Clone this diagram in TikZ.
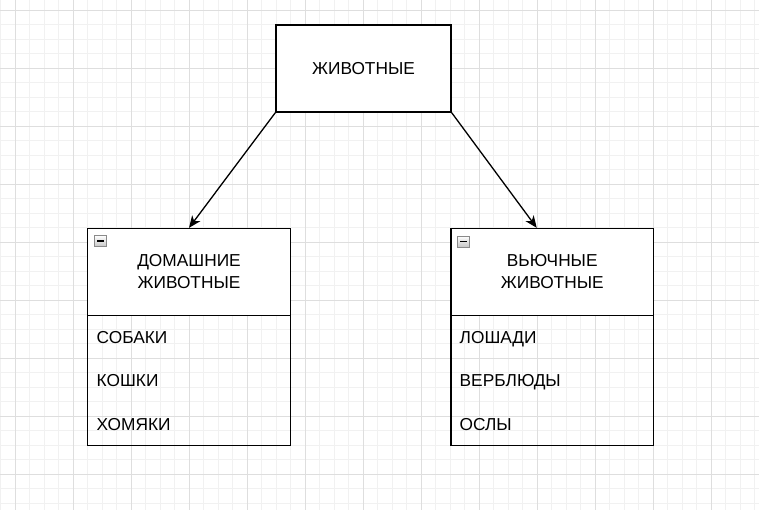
\documentclass[tikz,border=0pt]{standalone}
\usepackage{fontspec}
\setmainfont{Liberation Sans}
\usetikzlibrary{arrows.meta,calc}
\definecolor{gridminor}{HTML}{F1F1F1}
\definecolor{gridmajor}{HTML}{DEDEDE}
\definecolor{iconborder}{HTML}{8A8A8A}
\tikzset{
  boxline/.style={draw=black,line width=1.3pt},
  plainbox/.style={boxline,fill=white,rectangle,inner sep=0pt,align=center,
    font=\fontsize{17.3}{22}\selectfont},
  listbox/.style={boxline,rectangle,inner sep=0pt},
  itemtext/.style={anchor=base west,inner sep=0pt,font=\fontsize{17.3}{20}\selectfont},
  link/.style={line width=1.3pt,-{Stealth[length=12pt,width=10pt,inset=3.5pt]}},
  minusicon/.style={draw=iconborder,line width=0.6pt,top color=white,bottom color=gray!45,
    rectangle,minimum width=12pt,minimum height=11pt,inner sep=0pt,
    path picture={\draw[line width=1.1pt,black] ([xshift=2.5pt]path picture bounding box.west) -- ([xshift=-2.5pt]path picture bounding box.east);}},
}
\begin{document}
\begin{tikzpicture}[x=1pt,y=-1pt]
\useasboundingbox (0,0) rectangle (759,510);
\fill[white] (0,0) rectangle (759,510);
% grid
\foreach \k in {-1,...,51} {
  \pgfmathsetmacro{\xx}{15+14.5*\k}
  \draw[gridminor,line width=0.9pt] (\xx,0) -- (\xx,510);
}
\foreach \k in {-1,...,34} {
  \pgfmathsetmacro{\yy}{10+14.5*\k}
  \draw[gridminor,line width=0.9pt] (0,\yy) -- (759,\yy);
}
\foreach \k in {0,...,12} {
  \pgfmathsetmacro{\xx}{15+58*\k}
  \draw[gridmajor,line width=0.9pt] (\xx,0) -- (\xx,510);
}
\foreach \k in {0,...,8} {
  \pgfmathsetmacro{\yy}{10+58*\k}
  \draw[gridmajor,line width=0.9pt] (0,\yy) -- (759,\yy);
}
% top box
\node[plainbox,minimum width=175pt,minimum height=87pt] (animals) at (363.5,68.5) {ЖИВОТНЫЕ};
% left class
\node[plainbox,minimum width=203pt,minimum height=87pt] (dom) at (189,272) {ДОМАШНИЕ\\ЖИВОТНЫЕ};
\node[listbox,minimum width=203pt,minimum height=130pt] (domlist) at (189,380.5) {};
\node[minusicon] (domicon) at (100.5,241) {};
\node[itemtext] (dog) at (96.5,343.5) {СОБАКИ};
\node[itemtext] (cat) at (96.5,386.5) {КОШКИ};
\node[itemtext] (ham) at (96.5,430) {ХОМЯКИ};
% right class
\node[plainbox,minimum width=202.5pt,minimum height=87pt] (vyu) at (552.25,272) {ВЬЮЧНЫЕ\\ЖИВОТНЫЕ};
\node[listbox,minimum width=202.5pt,minimum height=130pt] (vyulist) at (552.25,380.5) {};
\node[minusicon] (vyuicon) at (463.5,241.5) {};
\node[itemtext] (horse) at (459.5,343.5) {ЛОШАДИ};
\node[itemtext] (camel) at (459.5,386.5) {ВЕРБЛЮДЫ};
\node[itemtext] (donkey) at (459.5,430) {ОСЛЫ};
% connectors
\coordinate (vyuin) at ([xshift=-15.5pt]vyu.north);
\draw[link] (animals.south west) -- (dom.north);
\draw[link] (animals.south east) -- (vyuin);
\end{tikzpicture}
\end{document}
